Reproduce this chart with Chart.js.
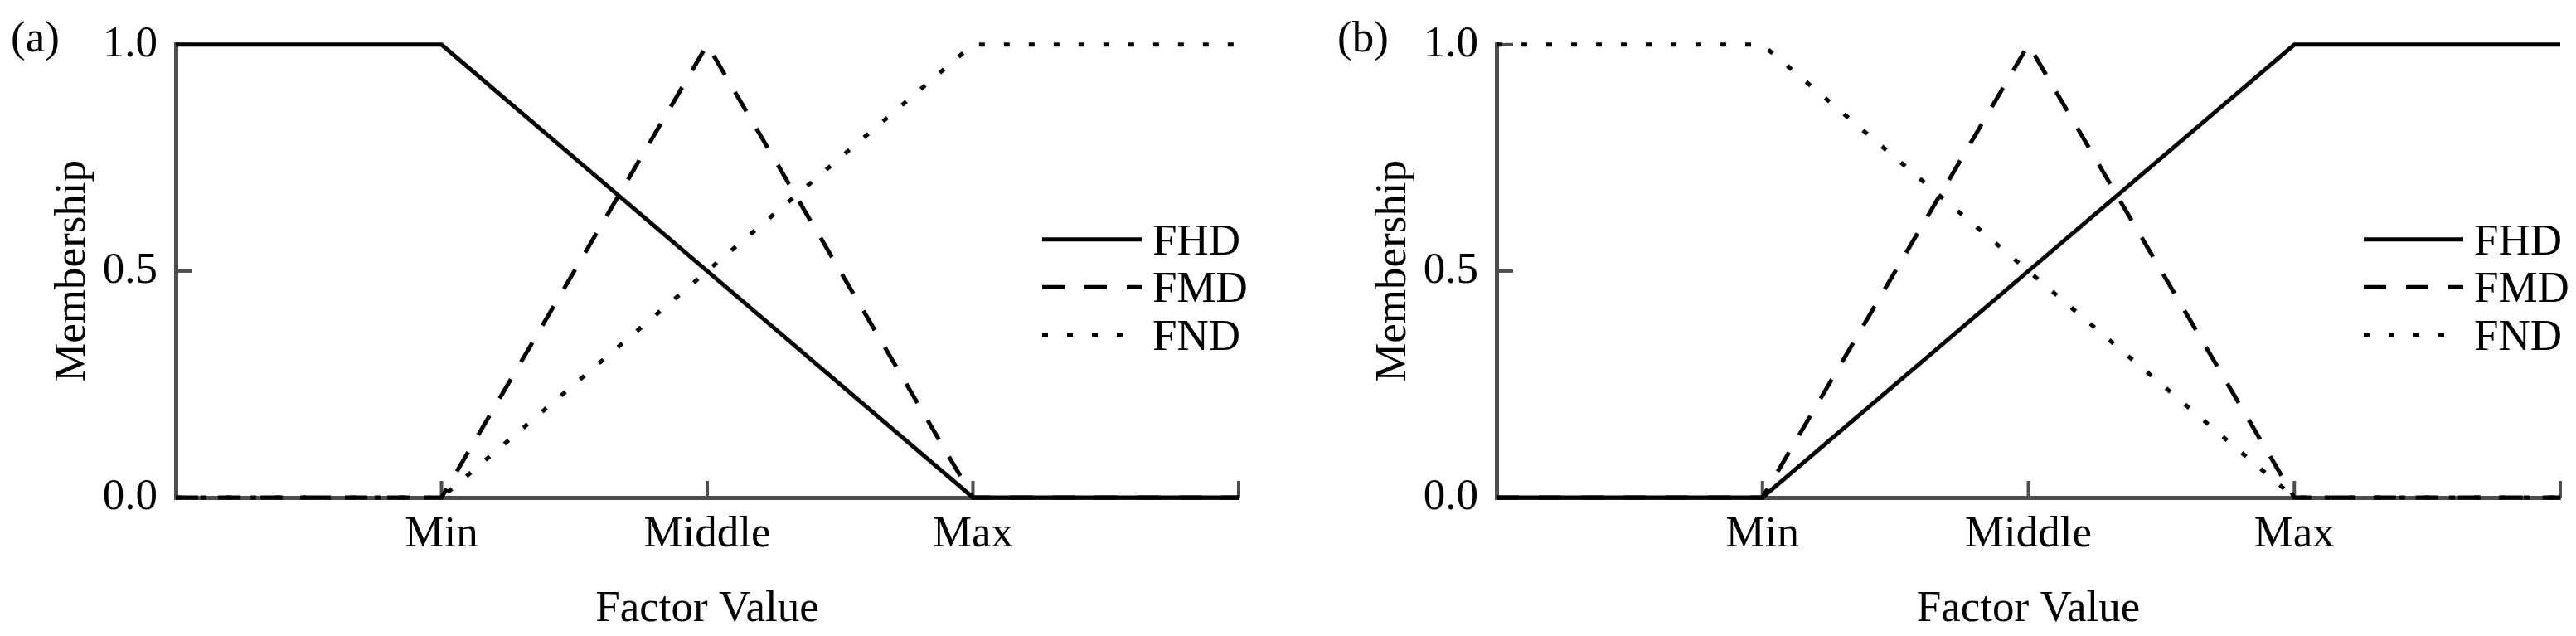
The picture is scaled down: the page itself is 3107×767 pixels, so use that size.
<!DOCTYPE html>
<html>
<head>
<meta charset="utf-8">
<script src="https://cdn.jsdelivr.net/npm/chart.js@4.4.0/dist/chart.umd.min.js"></script>
<style>
  html, body { margin: 0; padding: 0; background: #fff; }
  body { width: 3107px; height: 767px; position: relative; overflow: hidden; }
  .panel { position: absolute; top: 0; height: 767px; }
  #panel-a { left: 0; width: 1553px; }
  #panel-b { left: 1593px; width: 1514px; }
</style>
</head>
<body>
<div class="panel" id="panel-a"><canvas id="chart-a" width="1553" height="767"></canvas></div>
<div class="panel" id="panel-b"><canvas id="chart-b" width="1514" height="767"></canvas></div>
<script>
// x positions of the breakpoints and their tick labels
const factorLevels = [0, 1, 2, 3, 4];
const factorLabels = ['', 'Min', 'Middle', 'Max', ''];
const membershipTicks = [0, 0.5, 1];
const seriesNames = ['FHD', 'FMD', 'FND'];

// panel (a)
const fhdA = [1, 1, 0.5, 0, 0];
const fmdA = [0, 0, 1, 0, 0];
const fndA = [0, 0, 0.5, 1, 1];

// panel (b)
const fhdB = [0, 0, 0.5, 1, 1];
const fmdB = [0, 0, 1, 0, 0];
const fndB = [1, 1, 0.5, 0, 0];

const FONT = 'Liberation Serif';
const AXIS_COLOR = '#4d4d4d';
const dashes = [[], [27, 24], [7, 23]];

Chart.defaults.font.family = FONT;
Chart.defaults.font.size = 53;
Chart.defaults.color = '#000';

const extras = {
    id: 'extras',
    beforeDatasetsDraw(chart) {
        const ctx = chart.ctx;
        const x = chart.scales.x;
        const y = chart.scales.y;
        const area = chart.chartArea;
        ctx.save();
        ctx.strokeStyle = AXIS_COLOR;
        ctx.lineWidth = 4;
        // inner tick marks
        factorLevels.forEach(v => {
            if (v === 0) return;
            const px = x.getPixelForValue(v);
            ctx.beginPath();
            ctx.moveTo(px, area.bottom);
            ctx.lineTo(px, area.bottom - 20);
            ctx.stroke();
        });
        membershipTicks.forEach(v => {
            if (v === 0) return;
            const py = y.getPixelForValue(v);
            ctx.beginPath();
            ctx.moveTo(area.left, py);
            ctx.lineTo(area.left + 20, py);
            ctx.stroke();
        });
        ctx.restore();
    },
    afterDraw(chart, args, opts) {
        const ctx = chart.ctx;
        const area = chart.chartArea;
        ctx.save();
        ctx.fillStyle = '#000';
        ctx.font = '53px "' + FONT + '"';
        ctx.textBaseline = 'alphabetic';
        ctx.fillText(opts.tag, opts.tagX, 62);

        // legend inside the plot, right side
        const x1 = area.right - 237;
        const x2 = area.right - 117;
        chart.data.datasets.forEach((ds, i) => {
            const yy = area.top + 235 + i * 57.5;
            ctx.strokeStyle = '#000';
            ctx.lineWidth = 5;
            ctx.setLineDash(ds.borderDash || []);
            ctx.beginPath();
            ctx.moveTo(x1, yy);
            ctx.lineTo(x2, yy);
            ctx.stroke();
            ctx.setLineDash([]);
            ctx.fillText(ds.label, area.right - 104, yy + 18);
        });
        ctx.restore();
    }
};

function makePanel(canvasId, tag, tagX, rightPad, fhd, fmd, fnd) {
    const series = [fhd, fmd, fnd];
    const datasets = series.map((vals, i) => ({
        label: seriesNames[i],
        data: factorLevels.map((lv, j) => ({ x: lv, y: vals[j] })),
        borderColor: '#000',
        borderWidth: 5,
        borderDash: dashes[i],
        borderCapStyle: 'butt',
        pointRadius: 0,
        tension: 0,
        fill: false,
        clip: false
    }));

    return new Chart(document.getElementById(canvasId), {
        type: 'line',
        data: { datasets: datasets },
        plugins: [extras],
        options: {
            responsive: false,
            animation: false,
            layout: { padding: { left: 56, right: rightPad, top: 40, bottom: 0 } },
            scales: {
                x: {
                    type: 'linear',
                    min: 0,
                    max: 4,
                    afterBuildTicks: s => { s.ticks = factorLevels.map(v => ({ value: v })); },
                    afterFit: s => { s.height = 167; },
                    ticks: {
                        padding: 13,
                        maxRotation: 0,
                        autoSkip: false,
                        callback: v => factorLabels[factorLevels.indexOf(v)]
                    },
                    grid: { display: false, drawTicks: false },
                    border: { display: true, color: AXIS_COLOR, width: 5 },
                    title: { display: true, text: 'Factor Value', padding: 0 }
                },
                y: {
                    min: 0,
                    max: 1,
                    afterBuildTicks: s => { s.ticks = membershipTicks.map(v => ({ value: v })); },
                    afterFit: s => { s.width = 156; },
                    ticks: {
                        padding: 22,
                        callback: v => v.toFixed(1)
                    },
                    grid: { display: false, drawTicks: false },
                    border: { display: true, color: AXIS_COLOR, width: 5 },
                    title: { display: true, text: 'Membership', padding: 0 }
                }
            },
            plugins: {
                legend: { display: false },
                tooltip: { enabled: false },
                extras: { tag: tag, tagX: tagX }
            }
        }
    });
}

makePanel('chart-a', '(a)', 13, 59, fhdA, fmdA, fndA);
makePanel('chart-b', '(b)', 20, 19, fhdB, fmdB, fndB);
</script>
</body>
</html>
